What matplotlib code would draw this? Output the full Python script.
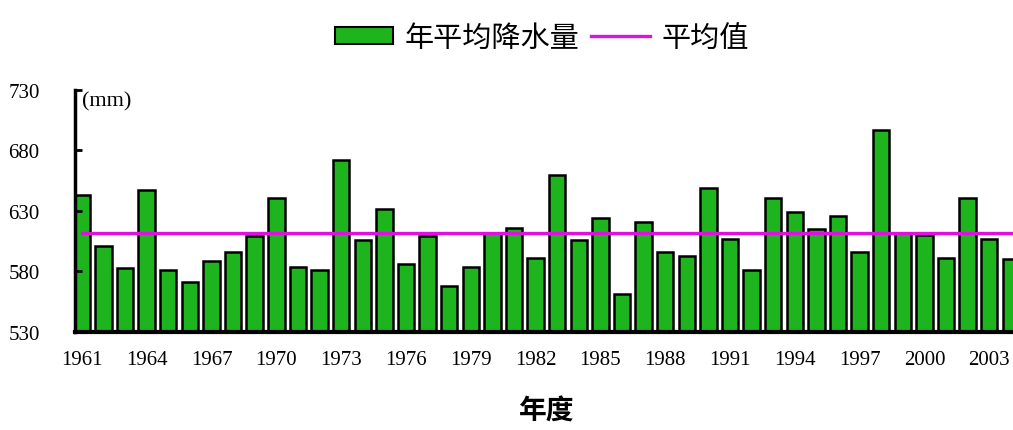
import numpy as np
import matplotlib
matplotlib.use('Agg')
import matplotlib.pyplot as plt
from matplotlib.lines import Line2D
from matplotlib.patches import Patch

plt.rcParams['font.family'] = ['Liberation Serif', 'Noto Sans CJK SC']

years = list(range(1961, 2005))
rain = [643, 601, 583, 647, 581, 571, 589, 596, 609, 641,
        584, 581, 672, 606, 632, 586, 609, 568, 584, 612,
        616, 591, 660, 606, 624, 561, 621, 596, 593, 649,
        607, 581, 641, 629, 615, 626, 596, 697, 612, 610,
        591, 641, 607, 590]
avg = 612
xtick_years = list(range(1961, 2004, 3))
yticks = [530, 580, 630, 680, 730]

fig = plt.figure(figsize=(10.13, 4.31), dpi=100)
ax = fig.add_axes([0.074, 0.2274, 0.926, 0.5615])

ax.bar(years, np.array(rain) - 530, bottom=530, width=0.76,
       color='#1EB41E', edgecolor='black', linewidth=1.8, label='年平均降水量')
ax.plot(years, [avg] * len(years), color='#E010E0', linewidth=2.4, label='平均值')

ax.set_xlim(1960.68, 2004.1)
ax.set_ylim(530, 730)
ax.set_yticks(yticks)
ax.set_yticklabels([str(v) for v in yticks], fontsize=15)
ax.set_xticks(xtick_years)
ax.set_xticklabels([str(y) for y in xtick_years], fontsize=15)
ax.tick_params(axis='x', length=0, pad=13)
ax.tick_params(axis='y', direction='in', length=5, width=2, pad=48)
for lbl in ax.get_yticklabels():
    lbl.set_horizontalalignment('left')

ax.spines['top'].set_visible(False)
ax.spines['right'].set_visible(False)
ax.spines['left'].set_linewidth(2.5)
ax.spines['bottom'].set_linewidth(3)

ax.text(1961.0, 729, '(mm)', fontsize=16, va='top', ha='left')

handles = [Patch(facecolor='#1EB41E', edgecolor='black', linewidth=1.5),
           Line2D([0], [0], color='#E010E0', linewidth=2.4)]
fig.legend(handles, ['年平均降水量', '平均值'], loc='center', bbox_to_anchor=(0.535, 0.91),
           ncol=2, frameon=False, prop={'family': 'Noto Sans CJK SC', 'size': 21},
           handlelength=2.0, handleheight=0.55, handletextpad=0.4, columnspacing=0.4)

fig.text(0.54, 0.045, '年度', fontsize=20, fontweight='bold', ha='center',
         va='center', family='Noto Sans CJK SC')

fig.savefig('out.png', dpi=100)
